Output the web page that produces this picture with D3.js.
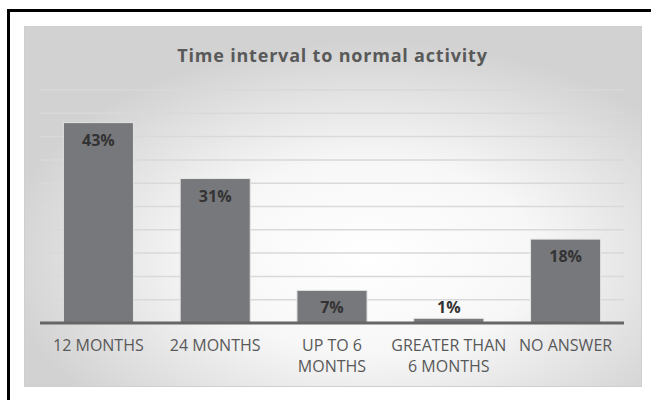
<!DOCTYPE html>
<html>
<head>
<meta charset="utf-8">
<script src="https://cdn.jsdelivr.net/npm/d3@7"></script>
<style>
  body { margin: 0; background: #fff; }
  svg { display: block; }
</style>
</head>
<body>
<div id="wrapper"></div>
<script>
const categories = [["12 MONTHS"], ["24 MONTHS"], ["UP TO 6", "MONTHS"], ["GREATER THAN", "6 MONTHS"], ["NO ANSWER"]];
const values = [43, 31, 7, 1, 18];
const gridTicks = [5, 10, 15, 20, 25, 30, 35, 40, 45, 50];
const title = "Time interval to normal activity";

function barChart() {
  let dimensions = {
    width: 651,
    height: 400,
    panel: { x: 24, y: 26, w: 617, h: 360 },
    margin: { top: 90, left: 40, bottom: 77, right: 27 }
  }
  dimensions.boundedWidth = dimensions.width - dimensions.margin.left - dimensions.margin.right;
  dimensions.boundedHeight = dimensions.height - dimensions.margin.top - dimensions.margin.bottom;

  const wrapper = d3.select("#wrapper").append("svg")
    .attr("width", dimensions.width)
    .attr("height", dimensions.height);

  // background gradient
  const defs = wrapper.append("defs");
  const grad = defs.append("radialGradient")
    .attr("id", "bg")
    .attr("cx", "0.56").attr("cy", "0.64").attr("r", "0.6");
  grad.append("stop").attr("offset", "0").attr("stop-color", "#ffffff");
  grad.append("stop").attr("offset", "0.45").attr("stop-color", "#f7f7f7");
  grad.append("stop").attr("offset", "1").attr("stop-color", "#d2d2d2");

  // black frame (top and left only)
  wrapper.append("path")
    .attr("d", "M8.5,400 L8.5,10.5 L651,10.5")
    .attr("fill", "none")
    .attr("stroke", "#000")
    .attr("stroke-width", 3);

  const p = dimensions.panel;
  wrapper.append("rect")
    .attr("x", p.x + 0.5).attr("y", p.y + 0.5)
    .attr("width", p.w).attr("height", p.h)
    .attr("fill", "url(#bg)")
    .attr("stroke", "#cfcfcf");

  wrapper.append("text")
    .attr("x", p.x + p.w / 2)
    .attr("y", 62)
    .attr("text-anchor", "middle")
    .attr("font-family", "Open Sans")
    .attr("font-weight", "bold")
    .attr("font-size", 18)
    .attr("letter-spacing", 0.8)
    .attr("fill", "#595959")
    .text(title);

  const container = wrapper.append("g")
    .attr("transform", `translate(${dimensions.margin.left},${dimensions.margin.top})`);

  const xScale = d3.scaleBand()
    .domain(d3.range(values.length))
    .range([0, dimensions.boundedWidth])
    .paddingInner(0.4)
    .paddingOuter(0.2);

  const yScale = d3.scaleLinear()
    .domain([0, 50])
    .range([dimensions.boundedHeight, 0]);

  // gridlines
  container.append("g")
    .selectAll("line")
    .data(gridTicks)
    .enter()
    .append("line")
    .attr("x1", 0)
    .attr("x2", dimensions.boundedWidth)
    .attr("y1", d => yScale(d))
    .attr("y2", d => yScale(d))
    .attr("stroke", "#d9d9d9")
    .attr("stroke-width", 1.5);

  container.selectAll("rect.bar")
    .data(values)
    .enter()
    .append("rect")
    .attr("class", "bar")
    .attr("x", (d, i) => xScale(i))
    .attr("y", d => yScale(d))
    .attr("width", xScale.bandwidth())
    .attr("height", d => yScale(0) - yScale(d))
    .attr("fill", "#77787b")
    .attr("stroke", "#e4e4e4")
    .attr("stroke-width", 1);

  // baseline
  container.append("line")
    .attr("x1", 0)
    .attr("x2", dimensions.boundedWidth)
    .attr("y1", yScale(0))
    .attr("y2", yScale(0))
    .attr("stroke", "#666")
    .attr("stroke-width", 3);

  // value labels
  container.selectAll("text.val")
    .data(values)
    .enter()
    .append("text")
    .attr("class", "val")
    .attr("x", (d, i) => xScale(i) + xScale.bandwidth() / 2)
    .attr("y", d => {
      const h = yScale(0) - yScale(d);
      return h > 25 ? yScale(d) + 23 : yScale(d) - 5;
    })
    .attr("text-anchor", "middle")
    .attr("font-family", "Open Sans")
    .attr("font-weight", "bold")
    .attr("font-size", 16)
    .attr("fill", "#333")
    .text(d => d + "%");

  // category labels
  const xlab = container.append("g")
    .selectAll("text")
    .data(categories)
    .enter()
    .append("text")
    .attr("x", (d, i) => xScale(i) + xScale.bandwidth() / 2)
    .attr("y", yScale(0) + 28)
    .attr("text-anchor", "middle")
    .attr("font-family", "Open Sans")
    .attr("font-size", 16)
    .attr("fill", "#595959");

  xlab.selectAll("tspan")
    .data((d, i) => d.map(t => ({ t, i })))
    .enter()
    .append("tspan")
    .attr("x", d => xScale(d.i) + xScale.bandwidth() / 2)
    .attr("dy", (d, j) => j === 0 ? 0 : 20.5)
    .text(d => d.t);
}

barChart()
</script>
</body>
</html>
